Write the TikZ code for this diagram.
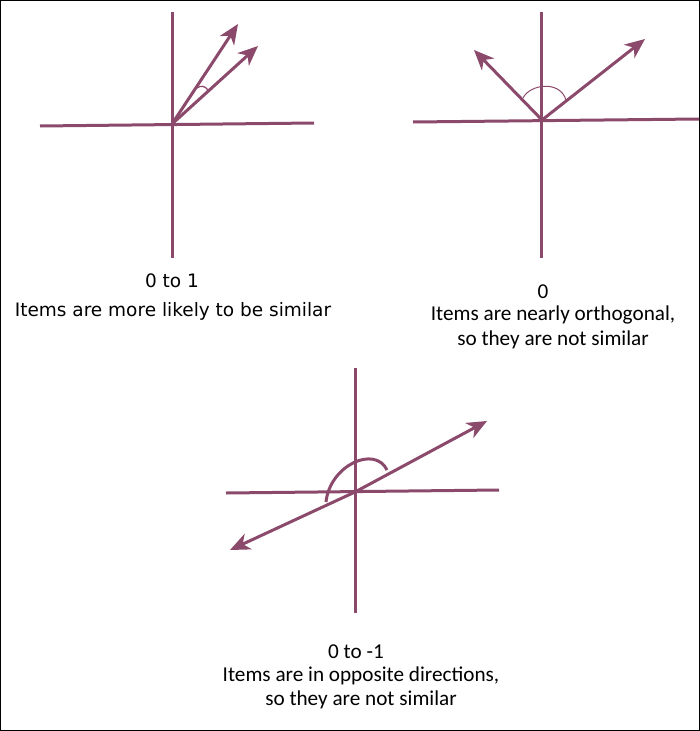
\documentclass[tikz,border=0pt]{standalone}
\usepackage{fontspec}
\setmainfont{Carlito}
\newfontfamily\dejavu{DejaVu Sans}
\usetikzlibrary{arrows.meta}
\definecolor{mauve}{RGB}{139,74,107}
\tikzset{
  axis/.style={draw=mauve, line width=3pt},
  vec/.style={draw=mauve, line width=3pt, -{Stealth[length=20pt,width=17pt,inset=6pt]}},
  anglearc/.style={draw=mauve, line width=1.3pt},
  lbl/.style={text=black, align=center, inner sep=0pt}
}
\begin{document}
\begin{tikzpicture}[x=1pt,y=-1pt]
\useasboundingbox (0,0) rectangle (700,731);
\draw[black, line width=1.2pt] (0.6,0.6) rectangle (699.4,730.4);
% ---------- diagram 1 ----------
\coordinate (o1) at (172,124);
\coordinate (v1t) at (172,12);
\coordinate (v1b) at (172,258);
\coordinate (h1l) at (40,126);
\coordinate (h1r) at (314,123);
\coordinate (a1) at (238,24);
\coordinate (b1) at (258,46);
\draw[axis] (v1t) -- (v1b);
\draw[axis] (h1l) -- (h1r);
\draw[vec] (o1) -- (a1);
\draw[vec] (o1) -- (b1);
\draw[anglearc] (197,88) .. controls (201,85) and (205,86) .. (208,90);
\node[lbl, font=\dejavu\fontsize{18.5}{22}\selectfont] (t1a) at (172,281) {0 to 1};
\node[lbl, font=\dejavu\fontsize{18.5}{22}\selectfont] (t1b) at (173,311) {Items are more likely to be similar};
% ---------- diagram 2 ----------
\coordinate (o2) at (542,120);
\coordinate (v2t) at (541,12);
\coordinate (v2b) at (541,258);
\coordinate (h2l) at (413,122);
\coordinate (h2r) at (699,119);
\coordinate (a2) at (474,50);
\coordinate (b2) at (645,39);
\draw[axis] (v2t) -- (v2b);
\draw[axis] (h2l) -- (h2r);
\draw[vec] (o2) -- (a2);
\draw[vec] (o2) -- (b2);
\draw[anglearc, line width=1pt] (523,98) .. controls (530,84) and (560,80) .. (566,100);
\node[lbl, font=\fontsize{21.2}{25}\selectfont] (t2a) at (543,292) {0};
\node[lbl, font=\fontsize{21.2}{25}\selectfont] (t2b) at (553,315) {Items are nearly orthogonal,};
\node[lbl, font=\fontsize{21.2}{25}\selectfont] (t2c) at (553,340) {so they are not similar};
% ---------- diagram 3 ----------
\coordinate (o3) at (355,492);
\coordinate (v3t) at (355,368);
\coordinate (v3b) at (355,613);
\coordinate (h3l) at (226,493);
\coordinate (h3r) at (499,490);
\coordinate (a3) at (487,421);
\coordinate (b3) at (230,550);
\draw[axis] (v3t) -- (v3b);
\draw[axis] (h3l) -- (h3r);
\draw[vec] (o3) -- (a3);
\draw[vec] (o3) -- (b3);
\draw[anglearc, line width=3pt] (326,502) .. controls (330,465) and (375,445) .. (387,470);
\node[lbl, font=\fontsize{21.2}{25}\selectfont] (t3a) at (356,652) {0 to -1};
\node[lbl, font=\fontsize{21.2}{25}\selectfont] (t3b) at (361,676) {Items are in opposite directions,};
\node[lbl, font=\fontsize{21.2}{25}\selectfont] (t3c) at (361,700) {so they are not similar};
\end{tikzpicture}
\end{document}
